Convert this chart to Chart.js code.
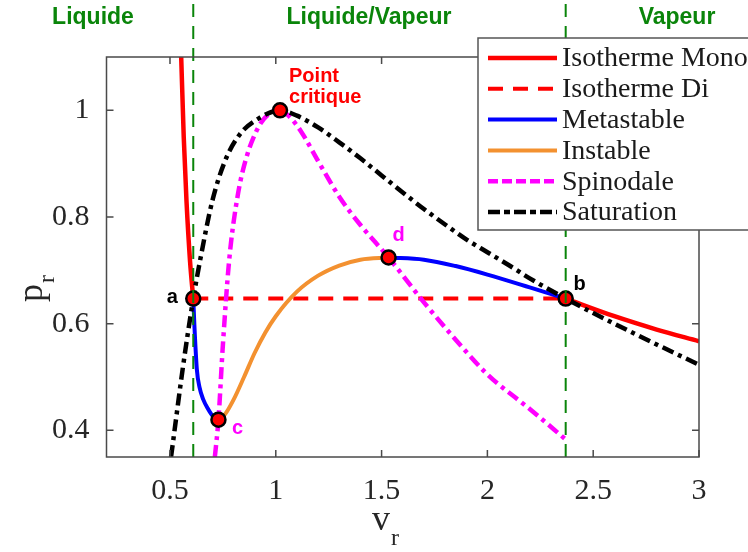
<!DOCTYPE html>
<html>
<head>
<meta charset="utf-8">
<script src="https://cdn.jsdelivr.net/npm/chart.js@4/dist/chart.umd.min.js"></script>
<style>
  html, body { margin: 0; padding: 0; background: #ffffff; }
  #wrap { width: 748px; height: 552px; }
</style>
</head>
<body>
<div id="wrap"><canvas id="chart" width="748" height="552"></canvas></div>
<script>
// ---- data (v_r, p_r) ----
const xTicks = [0.5, 1, 1.5, 2, 2.5, 3];
const yTicks = [0.4, 0.6, 0.8, 1];

const isoMonoLeft = [[0.553, 1.1], [0.565, 0.95], [0.578, 0.83], [0.595, 0.716], [0.61, 0.647]];
const isoMonoRight = [[2.37, 0.647], [2.6, 0.614], [2.8, 0.589], [3.0, 0.567]];
const isoDi = [[0.61, 0.647], [2.37, 0.647]];
const metaLeft = [[0.61, 0.647], [0.615, 0.6], [0.627, 0.514], [0.64, 0.48], [0.657, 0.458],
                  [0.68, 0.44], [0.704, 0.426], [0.729, 0.42]];
const metaRight = [[1.533, 0.724], [1.7, 0.72], [1.85, 0.708], [2.0, 0.692], [2.2, 0.668], [2.37, 0.647]];
const instable = [[0.729, 0.42], [0.76, 0.43], [0.8, 0.457], [0.85, 0.5], [0.9, 0.545],
                  [0.95, 0.583], [1.0, 0.614], [1.1, 0.66], [1.2, 0.69], [1.3, 0.709],
                  [1.4, 0.72], [1.533, 0.724]];
const spinodale = [[0.712, 0.35], [0.729, 0.42], [0.75, 0.56], [0.78, 0.72], [0.82, 0.84],
                   [0.86, 0.91], [0.92, 0.97], [0.97, 0.994], [1.02, 1.0], [1.06, 0.99],
                   [1.12, 0.96], [1.2, 0.905], [1.3, 0.838], [1.4, 0.785], [1.533, 0.724],
                   [1.7, 0.64], [1.85, 0.57], [2.0, 0.505], [2.2, 0.44], [2.37, 0.383]];
const saturation = [[0.505, 0.35], [0.516, 0.383], [0.56, 0.515], [0.61, 0.647], [0.643, 0.72],
                    [0.7, 0.83], [0.76, 0.905], [0.83, 0.955], [0.92, 0.985], [1.02, 1.0],
                    [1.1, 0.99], [1.2, 0.968], [1.3, 0.94], [1.4, 0.91], [1.5, 0.878],
                    [1.6, 0.846], [1.7, 0.815], [1.8, 0.786], [1.9, 0.758], [2.0, 0.734],
                    [2.1, 0.71], [2.2, 0.685], [2.37, 0.647], [2.6, 0.6], [2.8, 0.561], [3.0, 0.523]];

// special points: a, b, c, d, critical point
const pointNames = ['a', 'b', 'c', 'd', 'crit'];
const pointCoords = [[0.61, 0.647], [2.37, 0.647], [0.729, 0.42], [1.533, 0.724], [1.02, 1.0]];

// phase boundaries (green dashed verticals)
const phaseBounds = [0.61, 2.37];
const phaseNames = ['Liquide', 'Liquide/Vapeur', 'Vapeur'];

const legendNames = ['Isotherme Mono', 'Isotherme Di', 'Metastable', 'Instable', 'Spinodale', 'Saturation'];

// ---- styles ----
const RED = '#ff0000', BLUE = '#0000ff', ORANGE = '#f39130', MAGENTA = '#ff00ff', BLACK = '#000000';
const GREEN = '#0a850a';
const DASH_DI = [15, 10];
const DASH_DOT = [12, 5, 4, 5];
const SERIF = "'Liberation Serif', 'Times New Roman', serif";
const SANS = "'Liberation Sans', Arial, sans-serif";

const toXY = arr => arr.map(p => ({ x: p[0], y: p[1] }));

function curve(data, color, width, dash, order) {
    return {
        data: toXY(data),
        showLine: true,
        borderColor: color,
        borderWidth: width,
        borderDash: dash || [],
        pointRadius: 0,
        pointHoverRadius: 0,
        fill: false,
        cubicInterpolationMode: 'monotone',
        order: order
    };
}

const datasets = [
    curve(isoMonoLeft, RED, 4.5, null, 8),
    curve(isoMonoRight, RED, 4.5, null, 8),
    Object.assign(curve(isoDi, RED, 4, DASH_DI, 7), { cubicInterpolationMode: 'default', tension: 0 }),
    curve(metaLeft, BLUE, 4, null, 6),
    curve(metaRight, BLUE, 4, null, 6),
    curve(instable, ORANGE, 4, null, 5),
    curve(spinodale, MAGENTA, 4.5, DASH_DOT, 4),
    curve(saturation, BLACK, 4.5, DASH_DOT, 3),
    {
        data: toXY(pointCoords),
        showLine: false,
        pointRadius: 7,
        pointHoverRadius: 7,
        pointBackgroundColor: RED,
        pointBorderColor: BLACK,
        pointBorderWidth: 2.5,
        order: 2
    }
];
// green phase boundaries reach above the plot, so they are not clipped
phaseBounds.forEach(v => {
    datasets.push({
        data: [{ x: v, y: 0.35 }, { x: v, y: 1.22 }],
        showLine: true,
        borderColor: GREEN,
        borderWidth: 2,
        borderDash: [13, 9],
        pointRadius: 0,
        clip: false,
        order: 1
    });
});

// ---- drawing helpers (plugin) ----
const figurePlugin = {
    id: 'figure',
    afterDatasetsDraw(chart) {
        const ctx = chart.ctx;
        const { left, right, top, bottom } = chart.chartArea;
        const xs = chart.scales.x, ys = chart.scales.y;

        // axes box and inward ticks
        ctx.save();
        ctx.strokeStyle = '#4a4a4a';
        ctx.lineWidth = 1.5;
        ctx.strokeRect(left, top, right - left, bottom - top);
        ctx.beginPath();
        xTicks.forEach(v => {
            const px = xs.getPixelForValue(v);
            ctx.moveTo(px, bottom); ctx.lineTo(px, bottom - 7);
            ctx.moveTo(px, top); ctx.lineTo(px, top + 7);
        });
        yTicks.forEach(v => {
            const py = ys.getPixelForValue(v);
            ctx.moveTo(left, py); ctx.lineTo(left + 7, py);
            ctx.moveTo(right, py); ctx.lineTo(right - 7, py);
        });
        ctx.stroke();
        ctx.restore();

        // point labels
        const px = i => xs.getPixelForValue(pointCoords[i][0]);
        const py = i => ys.getPixelForValue(pointCoords[i][1]);
        ctx.save();
        ctx.font = 'bold 20px ' + SANS;
        ctx.textBaseline = 'middle';
        ctx.textAlign = 'center';
        ctx.fillStyle = BLACK;
        ctx.fillText('a', px(0) - 21, py(0) - 1);
        ctx.fillText('b', px(1) + 14, py(1) - 14);
        ctx.fillStyle = MAGENTA;
        ctx.fillText('c', px(2) + 19, py(2) + 9);
        ctx.fillText('d', px(3) + 10, py(3) - 22);
        ctx.fillStyle = RED;
        ctx.textAlign = 'left';
        ctx.fillText('Point', px(4) + 9, py(4) - 34);
        ctx.fillText('critique', px(4) + 9, py(4) - 13);
        ctx.restore();

        // phase labels above the plot
        ctx.save();
        ctx.font = 'bold 23px ' + SANS;
        ctx.fillStyle = GREEN;
        ctx.textAlign = 'center';
        ctx.textBaseline = 'middle';
        ctx.fillText(phaseNames[0], 93, 18);
        ctx.fillText(phaseNames[1], 369, 18);
        ctx.fillText(phaseNames[2], 677, 18);
        ctx.restore();

        // axis titles with subscripts
        ctx.save();
        ctx.fillStyle = '#262626';
        ctx.textBaseline = 'alphabetic';
        ctx.textAlign = 'left';
        ctx.font = '36px ' + SERIF;
        ctx.fillText('v', 372, 530);
        ctx.font = '24px ' + SERIF;
        ctx.fillText('r', 391, 545);
        ctx.translate(42, 302);
        ctx.rotate(-Math.PI / 2);
        ctx.font = '36px ' + SERIF;
        ctx.fillText('p', 0, 0);
        ctx.font = '24px ' + SERIF;
        ctx.fillText('r', 19, 12);
        ctx.restore();
    },
    afterDraw(chart) {
        // legend box (partly outside the canvas on the right)
        const ctx = chart.ctx;
        const styles = [
            { c: RED, d: [], w: 4.5 },
            { c: RED, d: DASH_DI, w: 4 },
            { c: BLUE, d: [], w: 4 },
            { c: ORANGE, d: [], w: 4 },
            { c: MAGENTA, d: [10, 4], w: 4.5 },
            { c: BLACK, d: [12, 4, 6, 4], w: 4.5 }
        ];
        ctx.save();
        ctx.fillStyle = '#ffffff';
        ctx.strokeStyle = '#555555';
        ctx.lineWidth = 1.5;
        ctx.fillRect(478, 38, 300, 192);
        ctx.strokeRect(478, 38, 300, 192);
        legendNames.forEach((name, i) => {
            const y = 58 + i * 30.8;
            ctx.beginPath();
            ctx.setLineDash(styles[i].d);
            ctx.strokeStyle = styles[i].c;
            ctx.lineWidth = styles[i].w;
            ctx.moveTo(488, y);
            ctx.lineTo(557, y);
            ctx.stroke();
            ctx.setLineDash([]);
            ctx.fillStyle = '#1a1a1a';
            ctx.font = '28px ' + SERIF;
            ctx.textBaseline = 'middle';
            ctx.textAlign = 'left';
            ctx.fillText(name, 562, y + 1);
        });
        ctx.restore();
    }
};

new Chart(document.getElementById('chart'), {
    type: 'scatter',
    data: { datasets: datasets },
    options: {
        responsive: false,
        animation: false,
        events: [],
        layout: { padding: { left: 0, top: 57, right: 49, bottom: 0 } },
        plugins: {
            legend: { display: false },
            tooltip: { enabled: false }
        },
        scales: {
            x: {
                type: 'linear',
                min: 0.2,
                max: 3,
                grid: { display: false },
                border: { display: false },
                afterBuildTicks: s => { s.ticks = xTicks.map(v => ({ value: v })); },
                afterFit: s => { s.height = 95; },
                ticks: {
                    color: '#262626',
                    font: { family: SERIF, size: 30 },
                    padding: 8,
                    maxRotation: 0,
                    callback: v => String(v)
                }
            },
            y: {
                type: 'linear',
                min: 0.35,
                max: 1.1,
                grid: { display: false },
                border: { display: false },
                afterBuildTicks: s => { s.ticks = yTicks.map(v => ({ value: v })); },
                afterFit: s => { s.width = 106.5; },
                ticks: {
                    color: '#262626',
                    font: { family: SERIF, size: 30 },
                    padding: 9,
                    callback: v => String(v)
                }
            }
        }
    },
    plugins: [figurePlugin]
});
</script>
</body>
</html>
